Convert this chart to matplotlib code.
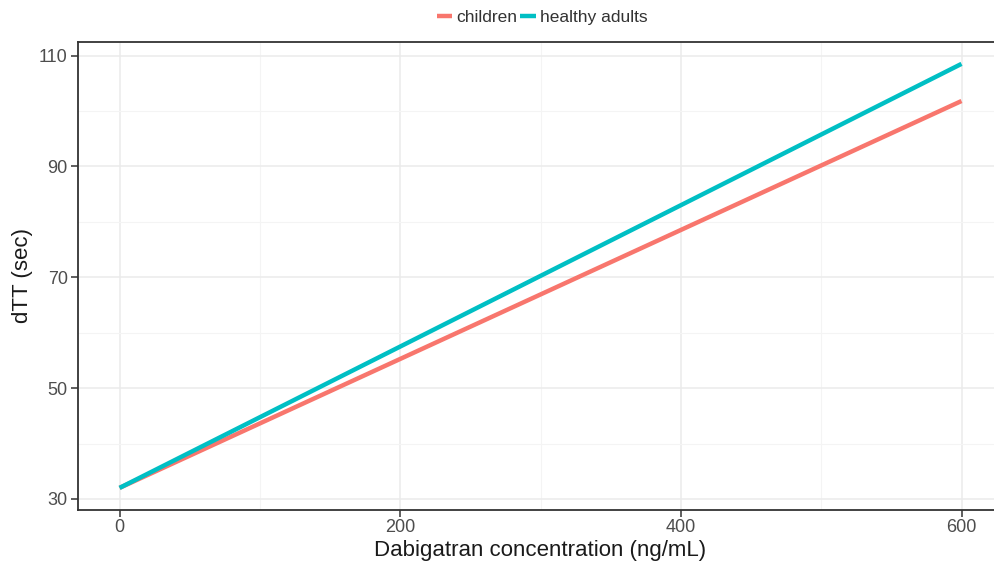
import numpy as np
import matplotlib.pyplot as plt
from matplotlib.ticker import MultipleLocator

plt.rcParams['font.family'] = ['Liberation Sans', 'DejaVu Sans']

conc = [0, 600]
dtt_children = [32.0, 101.8]
dtt_adults = [32.0, 108.5]

col_children = '#F8766D'
col_adults = '#00BFC4'

fig = plt.figure(figsize=(9.95, 5.65), dpi=100)
ax = fig.add_axes([77.5 / 995, 1 - 509.5 / 565, (1003.6 - 77.5) / 995, (509.5 - 41.7) / 565])

ax.plot(conc, dtt_children, color=col_children, lw=3.2, label='children', solid_capstyle='butt')
ax.plot(conc, dtt_adults, color=col_adults, lw=3.2, label='healthy adults', solid_capstyle='butt')

ax.set_xlim(-30, 630)
ax.set_ylim(28.1, 112.5)
ax.xaxis.set_major_locator(MultipleLocator(200))
ax.xaxis.set_minor_locator(MultipleLocator(100))
ax.set_yticks([30, 50, 70, 90, 110])
ax.set_yticks([40, 60, 80, 100], minor=True)

ax.grid(True, which='major', color='#EBEBEB', lw=1.1)
ax.grid(True, which='minor', color='#F4F4F4', lw=0.8)
ax.set_axisbelow(True)

for s in ax.spines.values():
    s.set_color('#333333')
    s.set_linewidth(1.3)

ax.tick_params(which='major', length=5, width=1.1, color='#333333', labelsize=13, labelcolor='#4D4D4D', pad=2)
ax.tick_params(which='minor', length=0)

ax.set_xlabel('Dabigatran concentration (ng/mL)', fontsize=16, color='#1A1A1A', labelpad=3)
ax.set_ylabel('dTT (sec)', fontsize=16, color='#1A1A1A', labelpad=4)

leg = fig.legend(loc='center', bbox_to_anchor=(542 / 995, 1 - 17 / 565), ncol=2, frameon=False,
                 fontsize=12.5, handlelength=0.9, handletextpad=0.2, columnspacing=0.2, borderaxespad=0)
for t in leg.get_texts():
    t.set_color('#333333')

fig.savefig('out.png', dpi=100)
